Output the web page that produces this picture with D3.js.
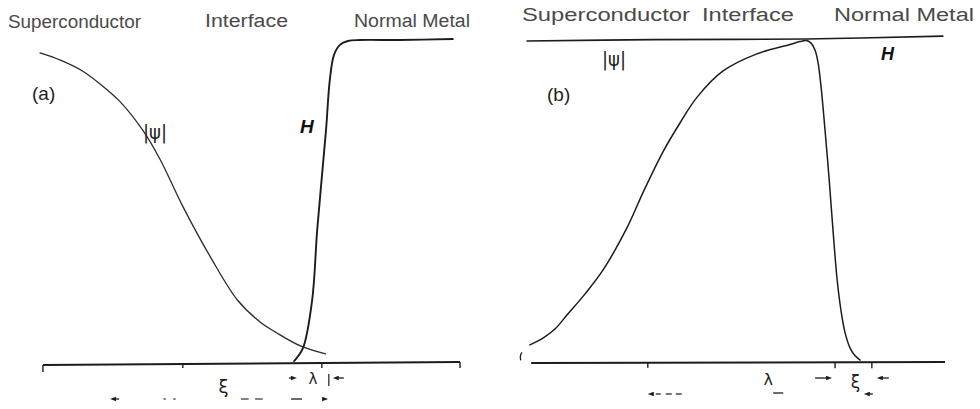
<!DOCTYPE html>
<html>
<head>
<meta charset="utf-8">
<script src="https://cdn.jsdelivr.net/npm/d3@7"></script>
<style>
  html, body { margin: 0; padding: 0; background: #fff; }
  svg { display: block; font-family: "Liberation Sans", Arial, Helvetica, sans-serif; }
</style>
</head>
<body>
<svg id="chart" width="980" height="409"></svg>
<script>
// Region names written across the top of each panel
const regions = ["Superconductor", "Interface", "Normal Metal"];

// Panel (a): |ψ| falls toward the interface, H rises sharply into the normal metal
// [position, normalised magnitude]
const psiA = [[0, 0.96], [5, 0.937], [10, 0.905], [14.3, 0.864], [19, 0.81], [24.5, 0.72],
              [28.6, 0.63], [34, 0.485], [40.5, 0.33], [47, 0.195], [52.4, 0.127],
              [56.4, 0.093], [62, 0.053], [68, 0.028]];
const fieldA = [[60.5, 0.006], [62.6, 0.046], [64.8, 0.195], [66, 0.412], [68.1, 0.721],
                [69, 0.876], [70, 0.954], [71.4, 0.985], [73.3, 0.997], [76.2, 1.0],
                [85.7, 1.0], [98.3, 1.003]];

// Panel (b): |ψ| climbs slowly then drops at the interface, H stays flat
const psiB = [[0.7, 0.053], [3.8, 0.074], [6.7, 0.102], [9.6, 0.146], [13.9, 0.211],
              [18.2, 0.285], [23.9, 0.415], [27.8, 0.526], [32.5, 0.65], [36.6, 0.74],
              [40.7, 0.82], [46.9, 0.901], [55, 0.954], [62.9, 0.983], [65.3, 0.992],
              [66.8, 0.995], [67.9, 0.988], [68.9, 0.966], [69.6, 0.929], [70.3, 0.858],
              [71.3, 0.718], [72.3, 0.563], [73.2, 0.409], [74.2, 0.254], [75.1, 0.161],
              [76.1, 0.09], [77.3, 0.043], [78.5, 0.019], [79.7, 0.006]];
const fieldB = [[0, 0.994], [30, 0.998], [66.8, 1.0], [99.5, 1.009]];

// Position axes and their tick marks
const axisA = [[0.7, -0.006], [100, 0.003]];
const axisB = [[1, -0.003], [100, 0]];
const ticksA = [0.7, 34, 67.1, 100];
const ticksB = [28.9, 73.7, 82.5];

// Length scales marked under each axis
const xiSpanA = [16.7, 68.6];
const lambdaSpanA = [61.4, 67.1];
const lambdaSpanB = [28.9, 73.7];
const xiSpanB = [73.7, 82.5];

const svg = d3.select("#chart");

const xA = d3.scaleLinear().domain([0, 100]).range([40, 460]);
const yA = d3.scaleLinear().domain([0, 1]).range([363, 40]);
const xB = d3.scaleLinear().domain([0, 100]).range([527, 945]);
const yB = d3.scaleLinear().domain([0, 1]).range([362, 39]);

const ink = "#1c1c1c";
const textInk = "#4a4a4a";

function curve(x, y, pts, width, color) {
  const line = d3.line().x(d => x(d[0])).y(d => y(d[1])).curve(d3.curveCatmullRom.alpha(0.5));
  svg.append("path").attr("d", line(pts)).attr("fill", "none")
    .attr("stroke", color || ink).attr("stroke-width", width)
    .attr("stroke-linecap", "round").attr("stroke-linejoin", "round");
}

function axisLine(x, y, pts, ticks, tickLens) {
  const line = d3.line().x(d => x(d[0])).y(d => y(d[1]));
  svg.append("path").attr("d", line(pts)).attr("fill", "none")
    .attr("stroke", ink).attr("stroke-width", 2);
  const yAt = d3.scaleLinear().domain([pts[0][0], pts[1][0]]).range([y(pts[0][1]), y(pts[1][1])]);
  ticks.forEach((t, i) => {
    svg.append("line")
      .attr("x1", x(t)).attr("x2", x(t))
      .attr("y1", yAt(t)).attr("y2", yAt(t) + tickLens[i])
      .attr("stroke", ink).attr("stroke-width", 1.4);
  });
}

// small filled arrowhead with its tip at (x, y); dir = +1 points right, -1 points left
function arrow(x, y, dir, tail) {
  const len = 6;
  svg.append("path")
    .attr("d", `M${x},${y}L${x - dir * len},${y - 2.3}L${x - dir * len},${y + 2.3}Z`)
    .attr("fill", ink);
  if (tail) {
    svg.append("line").attr("x1", x - dir * len).attr("x2", x - dir * (len + tail))
      .attr("y1", y).attr("y2", y).attr("stroke", ink).attr("stroke-width", 1.3);
  }
}

function seg(x1, x2, y, w) {
  svg.append("line").attr("x1", x1).attr("x2", x2).attr("y1", y).attr("y2", y)
    .attr("stroke", ink).attr("stroke-width", w || 1.3);
}

function label(txt, x, y, size, opts) {
  opts = opts || {};
  const t = svg.append("text").attr("x", x).attr("y", y).text(txt)
    .attr("font-size", size).attr("fill", opts.fill || textInk);
  if (opts.len) t.attr("textLength", opts.len).attr("lengthAdjust", "spacingAndGlyphs");
  if (opts.style) t.attr("font-style", opts.style);
  if (opts.weight) t.attr("font-weight", opts.weight);
  if (opts.anchor) t.attr("text-anchor", opts.anchor);
  if (opts.family) t.attr("font-family", opts.family);
  return t;
}

// ---------- headers ----------
label(regions[0], 8, 28, 18, { len: 133 });
label(regions[1], 205, 27, 18, { len: 83 });
label(regions[2], 354, 27, 18, { len: 116 });

label(regions[0], 522, 21, 18, { len: 168 });
label(regions[1], 702, 21, 18, { len: 92 });
label(regions[2], 834, 21, 18, { len: 140 });

// ---------- panel (a) ----------
axisLine(xA, yA, axisA, ticksA, [7, 4, 5, 6]);
curve(xA, yA, psiA, 1.3, "#2a2a2a");
curve(xA, yA, fieldA, 1.9);

label("(a)", 32, 100, 19, { fill: "#222" });
label("|ψ|", 143, 139, 20, { fill: "#222", family: "DejaVu Sans", len: 24 });
label("H", 300, 133, 19, { fill: "#111", style: "italic", weight: "bold" });

// λ marker between the two ticks at the interface
{
  const yRow = 378;
  arrow(xA(lambdaSpanA[0]) - 1, yRow, 1, 2);
  label("λ", (xA(lambdaSpanA[0]) + xA(lambdaSpanA[1])) / 2 + 3, 384, 15, { fill: "#222", anchor: "middle", family: "DejaVu Sans" });
  svg.append("line").attr("x1", xA(lambdaSpanA[1]) + 7).attr("x2", xA(lambdaSpanA[1]) + 7)
    .attr("y1", 374).attr("y2", 386).attr("stroke", ink).attr("stroke-width", 1.2);
  arrow(xA(lambdaSpanA[1]) + 11, yRow, -1, 5);
}

// ξ marker: long dashed arrow, faint in the middle
{
  const yRow = 399;
  const at = d3.interpolateNumber(xA(xiSpanA[0]), xA(xiSpanA[1]));
  label("ξ", at(0.52), 393, 18, { fill: "#222", anchor: "middle", family: "DejaVu Sans" });
  arrow(at(0), yRow, -1, 3);
  seg(at(0.245), at(0.255), yRow, 1.2);
  seg(at(0.29), at(0.3), yRow, 1.2);
  seg(at(0.6), at(0.635), yRow, 1.1);
  seg(at(0.665), at(0.7), yRow, 1.1);
  seg(at(0.83), at(0.88), yRow, 1.3);
  arrow(at(1), yRow, 1, 0);
}

// ---------- panel (b) ----------
axisLine(xB, yB, axisB, ticksB, [5, 6, 6]);
curve(xB, yB, fieldB, 1.6);
curve(xB, yB, psiB, 1.5);

// stray stroke at the foot of |ψ|
svg.append("path").attr("d", `M${xB(-1.2)},${yB(0.03)}Q${xB(-1.8)},${yB(0.02)} ${xB(-1.5)},${yB(0.005)}`)
  .attr("fill", "none").attr("stroke", ink).attr("stroke-width", 1.3);

label("(b)", 547, 101, 19, { fill: "#222" });
label("|ψ|", 602, 66, 20, { fill: "#222", family: "DejaVu Sans", len: 24 });
label("H", 881, 60, 18, { fill: "#111", style: "italic", weight: "bold" });

// λ marker: dashed arrow toward the interface
{
  const yRow = 394;
  arrow(xB(lambdaSpanB[0]), yRow, -1, 0);
  seg(xB(lambdaSpanB[0]) + 8, xB(lambdaSpanB[0]) + 13, yRow, 1.2);
  seg(xB(lambdaSpanB[0]) + 18, xB(lambdaSpanB[0]) + 24, yRow, 1.2);
  seg(xB(lambdaSpanB[0]) + 28, xB(lambdaSpanB[0]) + 34, yRow, 1.2);
  label("λ", xB(56.6), 385, 16, { fill: "#222", family: "DejaVu Sans" });
  seg(xB(58.9), xB(61.3), yRow - 1, 1.3);
}

// ξ marker between the two ticks past the interface
{
  const yRow = 378;
  arrow(xB(xiSpanB[0]) - 3, yRow, 1, 11);
  label("ξ", (xB(xiSpanB[0]) + xB(xiSpanB[1])) / 2 + 2, 388, 17, { fill: "#222", anchor: "middle", family: "DejaVu Sans" });
  arrow(xB(xiSpanB[1]) + 5, yRow, -1, 6);
  arrow(xB(xiSpanB[1]) - 8, 394, -1, 3);
}
</script>
</body>
</html>
